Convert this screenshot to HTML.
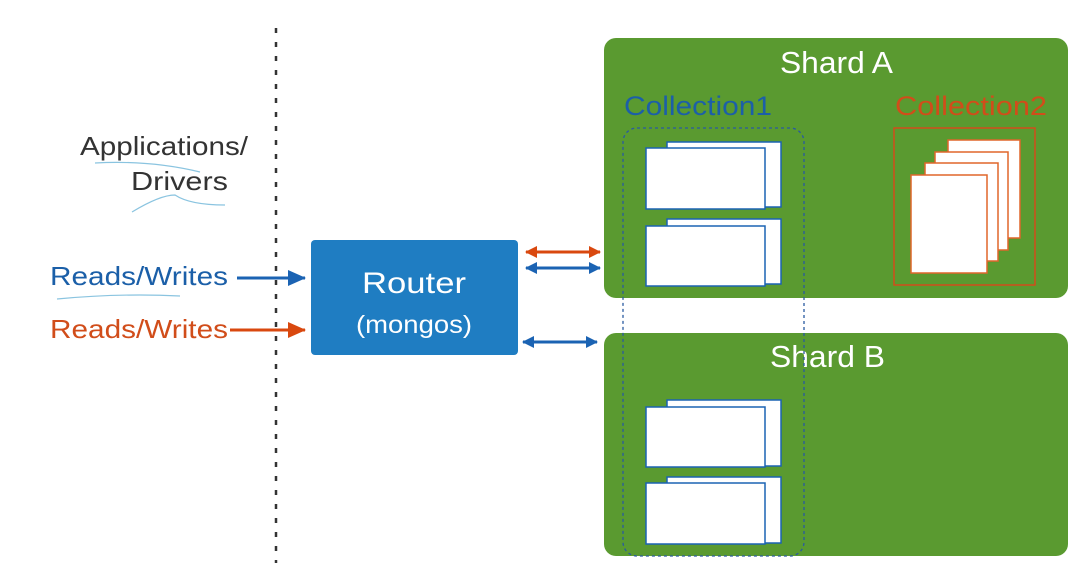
<!DOCTYPE html>
<html><head><meta charset="utf-8"><style>
html,body{margin:0;padding:0;background:#fff;width:1085px;height:563px;overflow:hidden}
text{font-family:"Liberation Sans",sans-serif}
</style></head><body>
<svg width="1085" height="563" viewBox="0 0 1085 563" xmlns="http://www.w3.org/2000/svg">
<defs>
<marker id="bh" markerWidth="12" markerHeight="12" refX="11" refY="6" orient="auto-start-reverse" markerUnits="userSpaceOnUse"><path d="M0,0 L12,6 L0,12 z" fill="#1b63b3"/></marker>
<marker id="oh" markerWidth="12" markerHeight="12" refX="11" refY="6" orient="auto-start-reverse" markerUnits="userSpaceOnUse"><path d="M0,0 L12,6 L0,12 z" fill="#d9480f"/></marker>
<marker id="bb" markerWidth="18" markerHeight="16" refX="17" refY="8" orient="auto" markerUnits="userSpaceOnUse"><path d="M0,0 L18,8 L0,16 z" fill="#1b63b3"/></marker>
<marker id="ob" markerWidth="18" markerHeight="16" refX="17" refY="8" orient="auto" markerUnits="userSpaceOnUse"><path d="M0,0 L18,8 L0,16 z" fill="#d9480f"/></marker>
</defs>
<line x1="276" y1="28" x2="276" y2="563" stroke="#333" stroke-width="2.5" stroke-dasharray="5,9"/>
<text x="80" y="155" font-size="26" fill="#333" textLength="168" lengthAdjust="spacingAndGlyphs">Applications/</text>
<text x="131" y="190" font-size="26" fill="#333" textLength="97" lengthAdjust="spacingAndGlyphs">Drivers</text>
<path d="M95,163 Q150,160 200,172" stroke="#8ac4e0" fill="none" stroke-width="1.2"/>
<path d="M132,212 Q160,195 175,195 Q190,205 225,205" stroke="#8ac4e0" fill="none" stroke-width="1.2"/>
<path d="M57,299 Q120,293 180,296" stroke="#8ac4e0" fill="none" stroke-width="1.2"/>
<text x="50" y="285" font-size="26" fill="#1b5fa8" textLength="178" lengthAdjust="spacingAndGlyphs">Reads/Writes</text>
<text x="50" y="338" font-size="26" fill="#d14d1a" textLength="178" lengthAdjust="spacingAndGlyphs">Reads/Writes</text>
<line x1="237" y1="278" x2="305" y2="278" stroke="#1b63b3" stroke-width="3" marker-end="url(#bb)"/>
<line x1="230" y1="330" x2="305" y2="330" stroke="#d9480f" stroke-width="3" marker-end="url(#ob)"/>
<rect x="311" y="240" width="207" height="115" rx="4" fill="#1f7dc2"/>
<text x="362" y="293" font-size="30" fill="#fff" textLength="104" lengthAdjust="spacingAndGlyphs">Router</text>
<text x="356" y="333" font-size="25" fill="#fff" textLength="116" lengthAdjust="spacingAndGlyphs">(mongos)</text>
<line x1="526" y1="252" x2="600" y2="252" stroke="#d9480f" stroke-width="3" marker-start="url(#oh)" marker-end="url(#oh)"/>
<line x1="526" y1="268" x2="600" y2="268" stroke="#1b63b3" stroke-width="3" marker-start="url(#bh)" marker-end="url(#bh)"/>
<line x1="523" y1="342" x2="597" y2="342" stroke="#1b63b3" stroke-width="3" marker-start="url(#bh)" marker-end="url(#bh)"/>
<rect x="604" y="38" width="464" height="260" rx="12" fill="#5a9a30"/>
<rect x="604" y="333" width="464" height="223" rx="12" fill="#5a9a30"/>
<text x="780" y="73" font-size="31" fill="#fff" textLength="113" lengthAdjust="spacingAndGlyphs">Shard A</text>
<text x="770" y="367" font-size="31" fill="#fff" textLength="115" lengthAdjust="spacingAndGlyphs">Shard B</text>
<text x="624" y="115" font-size="27" fill="#1c5fa8" textLength="148" lengthAdjust="spacingAndGlyphs">Collection1</text>
<text x="895" y="115" font-size="27" fill="#d14d1a" textLength="152" lengthAdjust="spacingAndGlyphs">Collection2</text>
<rect x="623" y="128" width="181" height="428" rx="14" fill="none" stroke="#2a5aa0" stroke-width="1.3" stroke-dasharray="3,3"/>
<g fill="#fff" stroke="#1b63b3" stroke-width="1.5">
<rect x="667" y="142" width="114" height="65"/><rect x="646" y="148" width="119" height="61"/>
<rect x="667" y="219" width="114" height="65"/><rect x="646" y="226" width="119" height="60"/>
<rect x="667" y="400" width="114" height="66"/><rect x="646" y="407" width="119" height="60"/>
<rect x="667" y="477" width="114" height="66"/><rect x="646" y="483" width="119" height="61"/>
</g>
<rect x="894" y="128" width="141" height="157" fill="none" stroke="#d14d1a" stroke-width="1.5"/>
<g fill="#fff" stroke="#e0662a" stroke-width="1.5">
<rect x="948" y="140" width="72" height="98"/>
<rect x="935" y="152" width="73" height="98"/>
<rect x="925" y="163" width="73" height="98"/>
<rect x="911" y="175" width="76" height="98"/>
</g>
</svg>
</body></html>
